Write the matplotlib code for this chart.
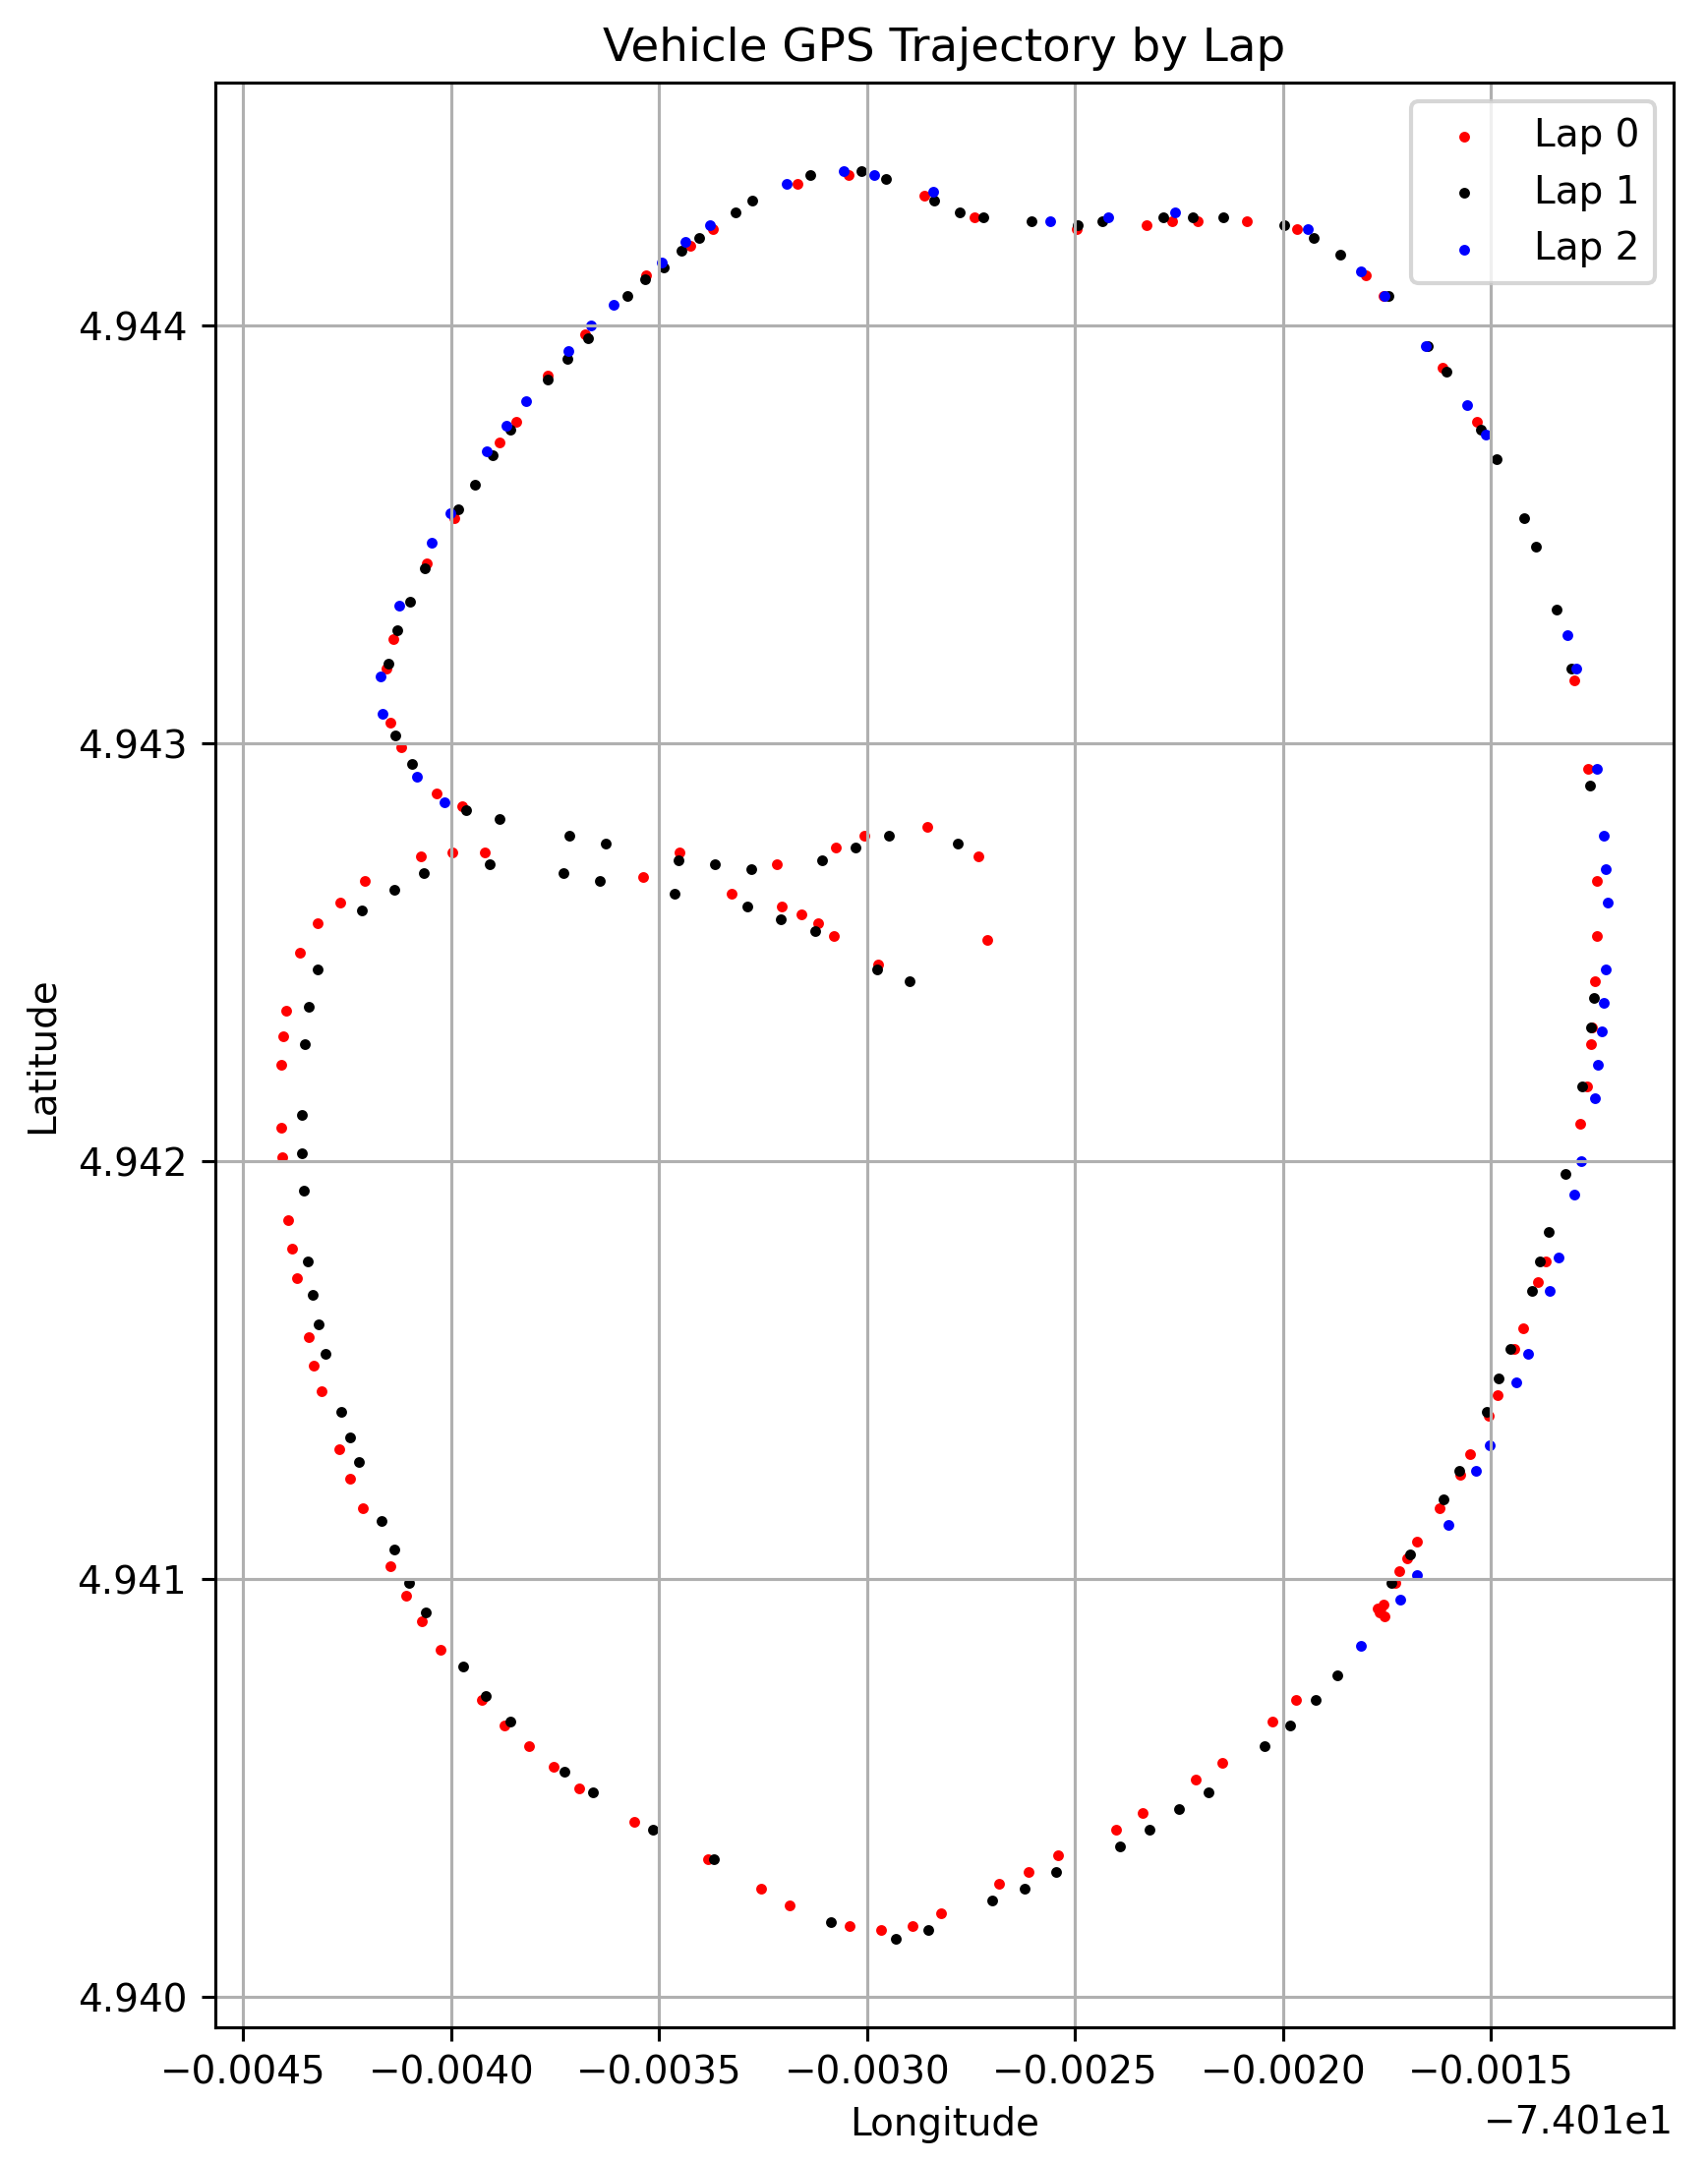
import matplotlib
matplotlib.use('Agg')
import matplotlib.pyplot as plt
import numpy as np

# longitudes are kept as thousandths of a degree away from -74.01
LON_BASE = -74.01

lap0_lon = [-4.058, -4.140, -4.156, -4.146, -4.121, -4.035, -3.974, -4.072, -3.997, -3.919,
            -4.208, -4.268, -4.321, -4.363, -4.397, -4.404, -4.409, -4.409, -4.406, -4.392,
            -4.382, -4.370, -4.343, -4.330, -4.313, -4.270, -4.243, -4.213, -4.146, -4.109,
            -4.070, -4.026, -3.926, -3.871, -3.814, -3.755, -3.692, -3.561, -3.383, -3.254,
            -3.187, -3.043, -2.967, -2.892, -2.822, -2.682, -2.613, -2.540, -2.402, -2.338,
            -2.209, -2.146, -2.025, -1.969, -1.758, -1.766, -1.772, -1.768, -1.757, -1.730,
            -1.720, -1.702, -1.678, -1.624, -1.573, -1.550, -1.505, -1.483, -1.443, -1.423,
            -1.386, -1.368, -1.285, -1.270, -1.260, -1.257, -1.249, -1.245, -1.246, -1.266,
            -1.299, -1.533, -1.617, -1.758, -1.802, -1.966, -2.087, -2.206, -2.266, -2.327,
            -2.496, -2.741, -2.863, -3.045, -3.167, -3.372, -3.426, -3.531, -3.679, -3.768,
            -3.843, -3.883, -3.993, -3.539, -3.451, -3.326, -3.218, -3.206, -3.158, -3.119,
            -3.079, -3.075, -3.006, -2.856, -2.732, -2.973, -2.710]
lap0_lat = [4.94343, 4.94325, 4.94318, 4.94305, 4.94299, 4.94288, 4.94285, 4.94273, 4.94274, 4.94274,
            4.94267, 4.94262, 4.94257, 4.94250, 4.94236, 4.94230, 4.94223, 4.94208, 4.94201, 4.94186,
            4.94179, 4.94172, 4.94158, 4.94151, 4.94145, 4.94131, 4.94124, 4.94117, 4.94103, 4.94096,
            4.94090, 4.94083, 4.94071, 4.94065, 4.94060, 4.94055, 4.94050, 4.94042, 4.94033, 4.94026,
            4.94022, 4.94017, 4.94016, 4.94017, 4.94020, 4.94027, 4.94030, 4.94034, 4.94040, 4.94044,
            4.94052, 4.94056, 4.94066, 4.94071, 4.94094, 4.94093, 4.94093, 4.94092, 4.94091, 4.94099,
            4.94102, 4.94105, 4.94109, 4.94117, 4.94125, 4.94130, 4.94139, 4.94144, 4.94155, 4.94160,
            4.94171, 4.94176, 4.94209, 4.94218, 4.94228, 4.94232, 4.94243, 4.94254, 4.94267, 4.94294,
            4.94315, 4.94377, 4.94390, 4.94407, 4.94412, 4.94423, 4.94425, 4.94425, 4.94425, 4.94424,
            4.94423, 4.94426, 4.94431, 4.94436, 4.94434, 4.94423, 4.94419, 4.94412, 4.94398, 4.94388,
            4.94377, 4.94372, 4.94354, 4.94268, 4.94274, 4.94264, 4.94271, 4.94261, 4.94259, 4.94257,
            4.94254, 4.94275, 4.94278, 4.94280, 4.94273, 4.94247, 4.94253]

lap1_lon = [-4.064, -4.099, -4.131, -4.151, -4.135, -4.095, -3.965, -3.883, -3.715, -3.629,
            -3.454, -3.367, -3.279, -3.109, -3.028, -2.948, -2.783, -4.137, -4.065, -3.908,
            -3.731, -3.642, -3.464, -3.289, -3.207, -3.125, -2.976, -2.899, -4.214, -4.321,
            -4.343, -4.353, -4.360, -4.359, -4.354, -4.346, -4.334, -4.319, -4.302, -4.264,
            -4.244, -4.222, -4.168, -4.136, -4.102, -4.062, -3.972, -3.917, -3.857, -3.727,
            -3.660, -3.514, -3.368, -3.088, -2.932, -2.852, -2.699, -2.622, -2.545, -2.392,
            -2.322, -2.251, -2.180, -2.045, -1.982, -1.922, -1.870, -1.739, -1.694, -1.613,
            -1.576, -1.510, -1.481, -1.454, -1.402, -1.382, -1.361, -1.320, -1.280, -1.260,
            -1.252, -1.261, -1.306, -1.343, -1.391, -1.420, -1.487, -1.525, -1.608, -1.652,
            -1.746, -1.862, -1.926, -1.996, -2.143, -2.217, -2.288, -2.434, -2.494, -2.605,
            -2.720, -2.778, -2.838, -2.954, -3.014, -3.137, -3.276, -3.317, -3.405, -3.446,
            -3.488, -3.533, -3.577, -3.671, -3.720, -3.768, -3.859, -3.901, -3.943, -3.984]
lap1_lat = [4.94342, 4.94334, 4.94327, 4.94319, 4.94302, 4.94295, 4.94284, 4.94282, 4.94278, 4.94276,
            4.94272, 4.94271, 4.94270, 4.94272, 4.94275, 4.94278, 4.94276, 4.94265, 4.94269, 4.94271,
            4.94269, 4.94267, 4.94264, 4.94261, 4.94258, 4.94255, 4.94246, 4.94243, 4.94260, 4.94246,
            4.94237, 4.94228, 4.94211, 4.94202, 4.94193, 4.94176, 4.94168, 4.94161, 4.94154, 4.94140,
            4.94134, 4.94128, 4.94114, 4.94107, 4.94099, 4.94092, 4.94079, 4.94072, 4.94066, 4.94054,
            4.94049, 4.94040, 4.94033, 4.94018, 4.94014, 4.94016, 4.94023, 4.94026, 4.94030, 4.94036,
            4.94040, 4.94045, 4.94049, 4.94060, 4.94065, 4.94071, 4.94077, 4.94099, 4.94106, 4.94119,
            4.94126, 4.94140, 4.94148, 4.94155, 4.94169, 4.94176, 4.94183, 4.94197, 4.94218, 4.94232,
            4.94239, 4.94290, 4.94318, 4.94332, 4.94347, 4.94354, 4.94368, 4.94375, 4.94389, 4.94395,
            4.94407, 4.94417, 4.94421, 4.94424, 4.94426, 4.94426, 4.94426, 4.94425, 4.94424, 4.94425,
            4.94426, 4.94427, 4.94430, 4.94435, 4.94437, 4.94436, 4.94430, 4.94427, 4.94421, 4.94418,
            4.94414, 4.94411, 4.94407, 4.94397, 4.94392, 4.94387, 4.94375, 4.94369, 4.94362, 4.94356]

lap2_lon = [-4.124, -4.047, -4.003, -3.914, -3.868, -3.820, -3.718, -3.665, -3.609, -3.495,
            -3.436, -3.377, -3.194, -3.056, -2.983, -2.842, -2.561, -2.420, -2.259, -1.941,
            -1.812, -1.756, -1.656, -1.557, -1.513, -1.317, -1.295, -1.246, -1.229, -1.224,
            -1.220, -1.224, -1.228, -1.233, -1.242, -1.251, -1.283, -1.299, -1.337, -1.359,
            -1.411, -1.439, -1.502, -1.535, -1.603, -1.677, -1.717, -1.813, -4.169, -4.165,
            -4.083, -4.016]
lap2_lat = [4.94333, 4.94348, 4.94355, 4.94370, 4.94376, 4.94382, 4.94394, 4.94400, 4.94405, 4.94415,
            4.94420, 4.94424, 4.94434, 4.94437, 4.94436, 4.94432, 4.94425, 4.94426, 4.94427, 4.94423,
            4.94413, 4.94407, 4.94395, 4.94381, 4.94374, 4.94326, 4.94318, 4.94294, 4.94278, 4.94270,
            4.94262, 4.94246, 4.94238, 4.94231, 4.94223, 4.94215, 4.94200, 4.94192, 4.94177, 4.94169,
            4.94154, 4.94147, 4.94132, 4.94126, 4.94113, 4.94101, 4.94095, 4.94084, 4.94316, 4.94307,
            4.94292, 4.94286]

lap_names = ['Lap 0', 'Lap 1', 'Lap 2']
lap_colors = ['red', 'black', 'blue']


def main():
    plt.rcParams['font.size'] = 9.35
    plt.rcParams['axes.linewidth'] = 0.75
    plt.rcParams['grid.linewidth'] = 0.75
    plt.rcParams['xtick.major.size'] = 3.3
    plt.rcParams['ytick.major.size'] = 3.3
    plt.rcParams['xtick.major.width'] = 0.75
    plt.rcParams['ytick.major.width'] = 0.75
    fig = plt.figure(figsize=(1737 / 300, 2199 / 300), dpi=300)
    ax = fig.add_axes([0.1258, 0.0625, 0.8541, 0.8993])
    laps = [(lap0_lon, lap0_lat), (lap1_lon, lap1_lat), (lap2_lon, lap2_lat)]
    for (lon, lat), name, color in zip(laps, lap_names, lap_colors):
        ax.scatter(LON_BASE + np.array(lon) * 1e-3, lat, s=2.6, c=color, label=name)
    ax.set_title('Vehicle GPS Trajectory by Lap', pad=5.3)
    ax.set_xlabel('Longitude', labelpad=3.4)
    ax.set_ylabel('Latitude')
    ax.legend(loc='upper right')
    ax.grid(True)
    fig.savefig('out.png', dpi=300)


if __name__ == '__main__':
    main()
